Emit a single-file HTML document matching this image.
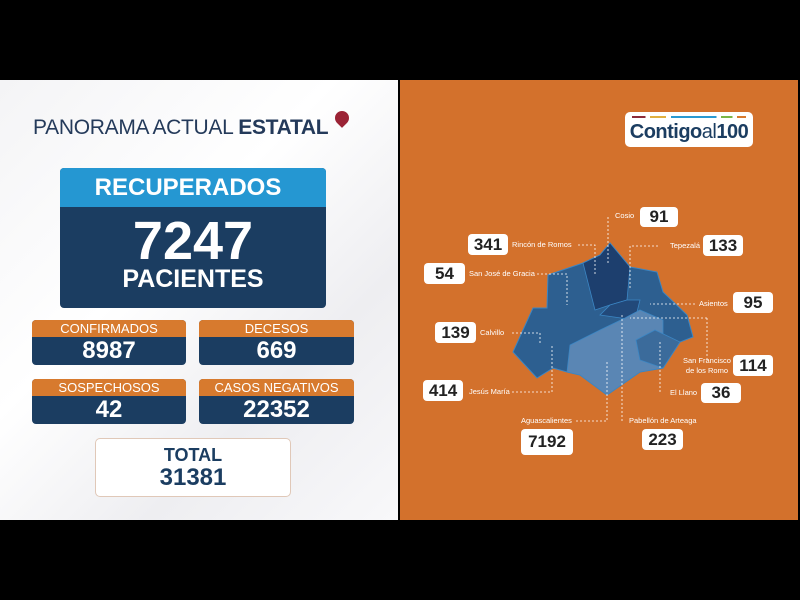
<!DOCTYPE html>
<html><head><meta charset="utf-8"><style>
*{margin:0;padding:0;box-sizing:border-box}
body{width:800px;height:600px;background:#000;position:relative;overflow:hidden;font-family:"Liberation Sans",sans-serif}
.abs{position:absolute}
#left{left:0;top:80px;width:398px;height:440px;background:linear-gradient(135deg,#f4f4f6 0%,#ffffff 40%,#eeeef1 70%,#f8f8fa 100%)}
#right{left:400px;top:80px;width:398px;height:440px;background:#d3712c}
.card{position:absolute;border-radius:4px;overflow:hidden;background:#1b3d61}
.card .h{background:#d77a2e;color:#fff;height:17px;font-size:13px;text-align:center;line-height:18px}
.card .v{color:#fff;font-weight:bold;font-size:24px;text-align:center;line-height:28px}
.nb{position:absolute;background:#fff;border-radius:4px;font-weight:bold;font-size:17px;color:#222;text-align:center}
.lb{position:absolute;color:#fff;font-size:7.5px;white-space:nowrap}
</style></head><body>
<div id="left" class="abs"></div>
<div id="right" class="abs"></div>
<div class="abs" style="left:33px;top:116px;font-size:21px;color:#243a5a;letter-spacing:-0.3px">PANORAMA ACTUAL <b>ESTATAL</b></div>
<div class="abs" style="left:335px;top:111px;width:14px;height:14px;border-radius:50% 50% 50% 0;transform:rotate(-45deg);background:#9b2335"></div>
<div class="abs" style="left:60px;top:168px;width:266px;height:140px;background:#1b3d61;border-radius:4px;overflow:hidden">
 <div style="background:#2597d2;height:39px;color:#fff;font-weight:bold;font-size:24px;text-align:center;line-height:40px;padding-right:10px">RECUPERADOS</div>
 <div style="color:#fff;font-weight:bold;font-size:54px;text-align:center;line-height:56px;margin-top:6px">7247</div>
 <div style="color:#fff;font-weight:bold;font-size:25px;text-align:center;line-height:28px;margin-top:-4px">PACIENTES</div>
</div>
<div class="card" style="left:32px;top:320px;width:154px;height:45px"><div class="h">CONFIRMADOS</div><div class="v">8987</div></div>
<div class="card" style="left:199px;top:320px;width:155px;height:45px"><div class="h">DECESOS</div><div class="v">669</div></div>
<div class="card" style="left:32px;top:379px;width:154px;height:45px"><div class="h">SOSPECHOSOS</div><div class="v">42</div></div>
<div class="card" style="left:199px;top:379px;width:155px;height:45px"><div class="h">CASOS NEGATIVOS</div><div class="v">22352</div></div>
<div class="abs" style="left:95px;top:438px;width:196px;height:59px;background:#fff;border:1px solid #e0c8b8;border-radius:5px;text-align:center;color:#1b3d61;font-weight:bold">
 <div style="font-size:18px;line-height:20px;margin-top:6px">TOTAL</div><div style="font-size:24px;line-height:26px">31381</div></div>

<div class="abs" style="left:625px;top:112px;width:128px;height:35px;background:#fff;border-radius:5px;text-align:center;font-weight:bold;color:#1b3d61;font-size:20px;line-height:40px;letter-spacing:-0.5px">Contigo<span style="font-weight:normal">al</span>100</div>
<div class="abs" style="left:632px;top:116px;width:114px;height:2px;background:linear-gradient(90deg,#8b2a3a 0 12%,transparent 12% 16%,#e0b040 16% 30%,transparent 30% 34%,#2a9ad2 34% 74%,transparent 74% 78%,#7ab648 78% 88%,transparent 88% 92%,#d77a2e 92%)"></div>

<svg class="abs" style="left:400px;top:80px" width="400" height="440" viewBox="400 80 400 440">
<polygon points="610,243 630,267 657,272 663,292 687,315 693,337 680,342 663,368 640,372 607,395 580,375 567,372 553,368 537,378 513,352 533,308 547,308 548,275 583,263 600,255" fill="#2d5f90" stroke="#3b86c4" stroke-width="1"/>
<polygon points="583,263 600,255 610,243 630,267 627,300 610,305 595,310" fill="#1d3f6e" stroke="#3b86c4" stroke-width="0.8"/>
<polygon points="610,305 627,300 640,300 635,320 600,315" fill="#22497a" stroke="#3b86c4" stroke-width="0.8"/>
<polygon points="640,310 663,320 663,368 640,372 607,395 580,375 567,372 570,345 600,330 625,318" fill="#5a86b4" stroke="#3b86c4" stroke-width="0.8"/>
<polygon points="655,330 680,342 663,368 640,360 636,340" fill="#3b6b9b" stroke="#3b86c4" stroke-width="0.8"/>
<g stroke="#fff" stroke-width="0.8" stroke-dasharray="2,2" fill="none">
<path d="M608,217V263"/><path d="M578,245H595V275"/><path d="M658,246H630V290"/><path d="M537,274H567V305"/><path d="M695,304H650"/><path d="M512,333H540V345"/><path d="M707,318H630M707,318V360"/><path d="M660,392V340"/><path d="M512,392H552V345"/><path d="M576,421H607V360"/><path d="M622,421V315"/>
</g>
</svg>
<div class="nb" style="left:640px;top:207px;width:38px;height:20px;line-height:20px">91</div>
<div class="nb" style="left:468px;top:234px;width:40px;height:21px;line-height:21px">341</div>
<div class="nb" style="left:703px;top:235px;width:40px;height:21px;line-height:21px">133</div>
<div class="nb" style="left:424px;top:263px;width:41px;height:21px;line-height:21px">54</div>
<div class="nb" style="left:733px;top:292px;width:40px;height:21px;line-height:21px">95</div>
<div class="nb" style="left:435px;top:322px;width:41px;height:21px;line-height:21px">139</div>
<div class="nb" style="left:733px;top:355px;width:40px;height:21px;line-height:21px">114</div>
<div class="nb" style="left:423px;top:380px;width:40px;height:21px;line-height:21px">414</div>
<div class="nb" style="left:701px;top:383px;width:40px;height:20px;line-height:20px">36</div>
<div class="nb" style="left:521px;top:429px;width:52px;height:26px;line-height:26px">7192</div>
<div class="nb" style="left:642px;top:429px;width:41px;height:21px;line-height:21px">223</div>
<div class="lb" style="left:615px;top:211px">Cosio</div>
<div class="lb" style="left:512px;top:240px">Rincón de Romos</div>
<div class="lb" style="left:670px;top:241px">Tepezalá</div>
<div class="lb" style="left:469px;top:269px">San José de Gracia</div>
<div class="lb" style="left:699px;top:299px">Asientos</div>
<div class="lb" style="left:480px;top:328px">Calvillo</div>
<div class="lb" style="left:683px;top:356px;text-align:center;line-height:10px">San Francisco<br>de los Romo</div>
<div class="lb" style="left:670px;top:388px">El Llano</div>
<div class="lb" style="left:469px;top:387px">Jesús María</div>
<div class="lb" style="left:521px;top:416px">Aguascalientes</div>
<div class="lb" style="left:629px;top:416px">Pabellón de Arteaga</div>
</body></html>
